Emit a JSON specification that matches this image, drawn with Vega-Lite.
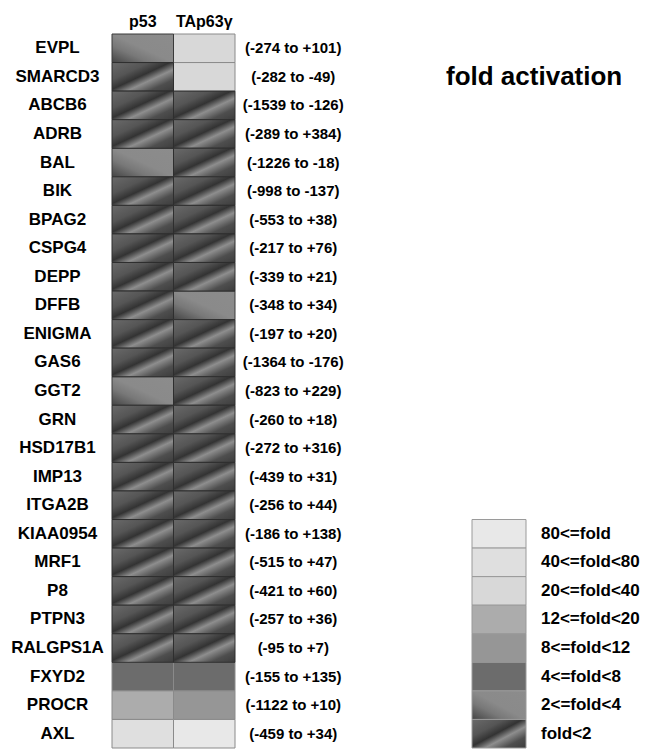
{
  "$schema": "https://vega.github.io/schema/vega-lite/v6.json",
  "width": 536,
  "height": 714,
  "autosize": {"type": "none"},
  "padding": {"left": 112, "top": 34, "right": 0, "bottom": 3},
  "background": "white",
  "config": {
    "view": {"stroke": null},
    "font": "Liberation Sans",
    "axis": {"domain": false, "ticks": false, "grid": false, "tickSize": 0}
  },
  "title": {
    "text": "fold activation",
    "anchor": "start",
    "frame": "group",
    "fontSize": 26,
    "fontWeight": "bold",
    "font": "Liberation Sans",
    "color": "black",
    "dx": 334,
    "dy": 98,
    "offset": 0,
    "baseline": "alphabetic"
  },
  "datasets": {
    "cells": [
      {"gene": "EVPL", "col": "p53", "cat": "2<=fold<4"},
      {"gene": "EVPL", "col": "TAp63γ", "cat": "20<=fold<40"},
      {"gene": "SMARCD3", "col": "p53", "cat": "fold<2"},
      {"gene": "SMARCD3", "col": "TAp63γ", "cat": "20<=fold<40"},
      {"gene": "ABCB6", "col": "p53", "cat": "fold<2"},
      {"gene": "ABCB6", "col": "TAp63γ", "cat": "fold<2"},
      {"gene": "ADRB", "col": "p53", "cat": "fold<2"},
      {"gene": "ADRB", "col": "TAp63γ", "cat": "fold<2"},
      {"gene": "BAL", "col": "p53", "cat": "2<=fold<4"},
      {"gene": "BAL", "col": "TAp63γ", "cat": "fold<2"},
      {"gene": "BIK", "col": "p53", "cat": "fold<2"},
      {"gene": "BIK", "col": "TAp63γ", "cat": "fold<2"},
      {"gene": "BPAG2", "col": "p53", "cat": "fold<2"},
      {"gene": "BPAG2", "col": "TAp63γ", "cat": "fold<2"},
      {"gene": "CSPG4", "col": "p53", "cat": "fold<2"},
      {"gene": "CSPG4", "col": "TAp63γ", "cat": "fold<2"},
      {"gene": "DEPP", "col": "p53", "cat": "fold<2"},
      {"gene": "DEPP", "col": "TAp63γ", "cat": "fold<2"},
      {"gene": "DFFB", "col": "p53", "cat": "fold<2"},
      {"gene": "DFFB", "col": "TAp63γ", "cat": "2<=fold<4"},
      {"gene": "ENIGMA", "col": "p53", "cat": "fold<2"},
      {"gene": "ENIGMA", "col": "TAp63γ", "cat": "fold<2"},
      {"gene": "GAS6", "col": "p53", "cat": "fold<2"},
      {"gene": "GAS6", "col": "TAp63γ", "cat": "fold<2"},
      {"gene": "GGT2", "col": "p53", "cat": "2<=fold<4"},
      {"gene": "GGT2", "col": "TAp63γ", "cat": "fold<2"},
      {"gene": "GRN", "col": "p53", "cat": "fold<2"},
      {"gene": "GRN", "col": "TAp63γ", "cat": "fold<2"},
      {"gene": "HSD17B1", "col": "p53", "cat": "fold<2"},
      {"gene": "HSD17B1", "col": "TAp63γ", "cat": "fold<2"},
      {"gene": "IMP13", "col": "p53", "cat": "fold<2"},
      {"gene": "IMP13", "col": "TAp63γ", "cat": "fold<2"},
      {"gene": "ITGA2B", "col": "p53", "cat": "fold<2"},
      {"gene": "ITGA2B", "col": "TAp63γ", "cat": "fold<2"},
      {"gene": "KIAA0954", "col": "p53", "cat": "fold<2"},
      {"gene": "KIAA0954", "col": "TAp63γ", "cat": "fold<2"},
      {"gene": "MRF1", "col": "p53", "cat": "fold<2"},
      {"gene": "MRF1", "col": "TAp63γ", "cat": "fold<2"},
      {"gene": "P8", "col": "p53", "cat": "fold<2"},
      {"gene": "P8", "col": "TAp63γ", "cat": "fold<2"},
      {"gene": "PTPN3", "col": "p53", "cat": "fold<2"},
      {"gene": "PTPN3", "col": "TAp63γ", "cat": "fold<2"},
      {"gene": "RALGPS1A", "col": "p53", "cat": "fold<2"},
      {"gene": "RALGPS1A", "col": "TAp63γ", "cat": "fold<2"},
      {"gene": "FXYD2", "col": "p53", "cat": "4<=fold<8"},
      {"gene": "FXYD2", "col": "TAp63γ", "cat": "4<=fold<8"},
      {"gene": "PROCR", "col": "p53", "cat": "12<=fold<20"},
      {"gene": "PROCR", "col": "TAp63γ", "cat": "8<=fold<12"},
      {"gene": "AXL", "col": "p53", "cat": "40<=fold<80"},
      {"gene": "AXL", "col": "TAp63γ", "cat": "80<=fold"}
    ],
    "genes": [
      {"gene": "EVPL", "range": "(-274 to +101)"},
      {"gene": "SMARCD3", "range": "(-282 to -49)"},
      {"gene": "ABCB6", "range": "(-1539 to -126)"},
      {"gene": "ADRB", "range": "(-289 to +384)"},
      {"gene": "BAL", "range": "(-1226 to -18)"},
      {"gene": "BIK", "range": "(-998 to -137)"},
      {"gene": "BPAG2", "range": "(-553 to +38)"},
      {"gene": "CSPG4", "range": "(-217 to +76)"},
      {"gene": "DEPP", "range": "(-339 to +21)"},
      {"gene": "DFFB", "range": "(-348 to +34)"},
      {"gene": "ENIGMA", "range": "(-197 to +20)"},
      {"gene": "GAS6", "range": "(-1364 to -176)"},
      {"gene": "GGT2", "range": "(-823 to +229)"},
      {"gene": "GRN", "range": "(-260 to +18)"},
      {"gene": "HSD17B1", "range": "(-272 to +316)"},
      {"gene": "IMP13", "range": "(-439 to +31)"},
      {"gene": "ITGA2B", "range": "(-256 to +44)"},
      {"gene": "KIAA0954", "range": "(-186 to +138)"},
      {"gene": "MRF1", "range": "(-515 to +47)"},
      {"gene": "P8", "range": "(-421 to +60)"},
      {"gene": "PTPN3", "range": "(-257 to +36)"},
      {"gene": "RALGPS1A", "range": "(-95 to +7)"},
      {"gene": "FXYD2", "range": "(-155 to +135)"},
      {"gene": "PROCR", "range": "(-1122 to +10)"},
      {"gene": "AXL", "range": "(-459 to +34)"}
    ],
    "legend": [
      {"cat": "80<=fold"},
      {"cat": "40<=fold<80"},
      {"cat": "20<=fold<40"},
      {"cat": "12<=fold<20"},
      {"cat": "8<=fold<12"},
      {"cat": "4<=fold<8"},
      {"cat": "2<=fold<4"},
      {"cat": "fold<2"}
    ]
  },
  "layer": [
    {
      "encoding": {
        "x": {
          "field": "col", "type": "nominal",
          "scale": {"domain": ["p53", "TAp63γ"], "range": [0, 123], "paddingInner": 0, "paddingOuter": 0},
          "axis": {"orient": "top", "title": null, "labelAngle": 0, "labelFontSize": 16, "labelFontWeight": "bold", "labelColor": "black", "labelPadding": 5, "labelFont": "Liberation Sans"}
        },
        "y": {
          "field": "gene", "type": "nominal",
          "scale": {"domain": ["EVPL","SMARCD3","ABCB6","ADRB","BAL","BIK","BPAG2","CSPG4","DEPP","DFFB","ENIGMA","GAS6","GGT2","GRN","HSD17B1","IMP13","ITGA2B","KIAA0954","MRF1","P8","PTPN3","RALGPS1A","FXYD2","PROCR","AXL"], "paddingInner": 0, "paddingOuter": 0},
          "axis": {"title": null, "labelFontSize": 17, "labelFontWeight": "bold", "labelColor": "black", "labelAlign": "center", "labelPadding": 55, "labelFont": "Liberation Sans"}
        }
      },
      "layer": [
        {
          "data": {"name": "cells"},
          "transform": [{"filter": {"not": {"field": "cat", "oneOf": ["fold<2", "2<=fold<4"]}}}],
          "mark": {"type": "rect", "stroke": "#8a8a8a", "strokeWidth": 1},
          "encoding": {
            "color": {
              "field": "cat", "type": "nominal", "legend": null,
              "scale": {
                "domain": ["80<=fold","40<=fold<80","20<=fold<40","12<=fold<20","8<=fold<12","4<=fold<8","2<=fold<4","fold<2"],
                "range": ["#e8e8e8","#dfdfdf","#d8d8d8","#acacac","#969696","#6c6c6c","#8a8a8a","#444444"]
              }
            }
          }
        },
        {
          "data": {"name": "cells"},
          "transform": [{"filter": {"field": "cat", "equal": "2<=fold<4"}}],
          "mark": {
            "type": "rect", "stroke": "#3a3a3a", "strokeWidth": 1,
            "fill": {"gradient": "linear", "x1": 0, "y1": 1, "x2": 1, "y2": 0,
              "stops": [{"offset": 0, "color": "#444444"}, {"offset": 0.3, "color": "#787878"}, {"offset": 0.5, "color": "#8a8a8a"}, {"offset": 1, "color": "#8c8c8c"}]}
          }
        },
        {
          "data": {"name": "cells"},
          "transform": [{"filter": {"field": "cat", "equal": "fold<2"}}],
          "mark": {
            "type": "rect", "stroke": "#2e2e2e", "strokeWidth": 1,
            "fill": {"gradient": "linear", "x1": 0, "y1": 0, "x2": 1, "y2": 1,
              "stops": [{"offset": 0, "color": "#6a6a6a"}, {"offset": 0.3, "color": "#555555"}, {"offset": 0.47, "color": "#333333"}, {"offset": 0.62, "color": "#8e8e8e"}, {"offset": 0.8, "color": "#4e4e4e"}, {"offset": 1, "color": "#3c3c3c"}]}
          }
        },
        {
          "data": {"name": "genes"},
          "mark": {"type": "text", "fontSize": 15, "fontWeight": "bold", "font": "Liberation Sans", "color": "black", "align": "center", "baseline": "middle", "dx": 89},
          "encoding": {
            "x": {"datum": "TAp63γ", "type": "nominal"},
            "text": {"field": "range", "type": "nominal"}
          }
        }
      ]
    },
    {
      "data": {"name": "legend"},
      "encoding": {
        "x": {
          "datum": "box", "type": "nominal",
          "scale": {"domain": ["box"], "range": [360, 414], "paddingInner": 0, "paddingOuter": 0},
          "axis": null
        },
        "y": {
          "field": "cat", "type": "nominal",
          "scale": {"domain": ["80<=fold","40<=fold<80","20<=fold<40","12<=fold<20","8<=fold<12","4<=fold<8","2<=fold<4","fold<2"], "range": [485.5, 714], "paddingInner": 0, "paddingOuter": 0},
          "axis": null
        }
      },
      "layer": [
        {
          "transform": [{"filter": {"not": {"field": "cat", "oneOf": ["fold<2", "2<=fold<4"]}}}],
          "mark": {"type": "rect", "stroke": "#9a9a9a", "strokeWidth": 1},
          "encoding": {
            "color": {"field": "cat", "type": "nominal", "legend": null}
          }
        },
        {
          "transform": [{"filter": {"field": "cat", "equal": "2<=fold<4"}}],
          "mark": {
            "type": "rect", "stroke": "#9a9a9a", "strokeWidth": 1,
            "fill": {"gradient": "linear", "x1": 0, "y1": 1, "x2": 1, "y2": 0,
              "stops": [{"offset": 0, "color": "#444444"}, {"offset": 0.3, "color": "#787878"}, {"offset": 0.5, "color": "#8a8a8a"}, {"offset": 1, "color": "#8c8c8c"}]}
          }
        },
        {
          "transform": [{"filter": {"field": "cat", "equal": "fold<2"}}],
          "mark": {
            "type": "rect", "stroke": "#9a9a9a", "strokeWidth": 1,
            "fill": {"gradient": "linear", "x1": 0, "y1": 0, "x2": 1, "y2": 1,
              "stops": [{"offset": 0, "color": "#6a6a6a"}, {"offset": 0.3, "color": "#555555"}, {"offset": 0.47, "color": "#333333"}, {"offset": 0.62, "color": "#8e8e8e"}, {"offset": 0.8, "color": "#4e4e4e"}, {"offset": 1, "color": "#3c3c3c"}]}
          }
        },
        {
          "mark": {"type": "text", "fontSize": 17, "fontWeight": "bold", "font": "Liberation Sans", "color": "black", "align": "left", "baseline": "middle", "dx": 42},
          "encoding": {
            "text": {"field": "cat", "type": "nominal"}
          }
        }
      ]
    }
  ],
  "resolve": {"scale": {"x": "independent", "y": "independent"}, "axis": {"x": "independent", "y": "independent"}}
}
